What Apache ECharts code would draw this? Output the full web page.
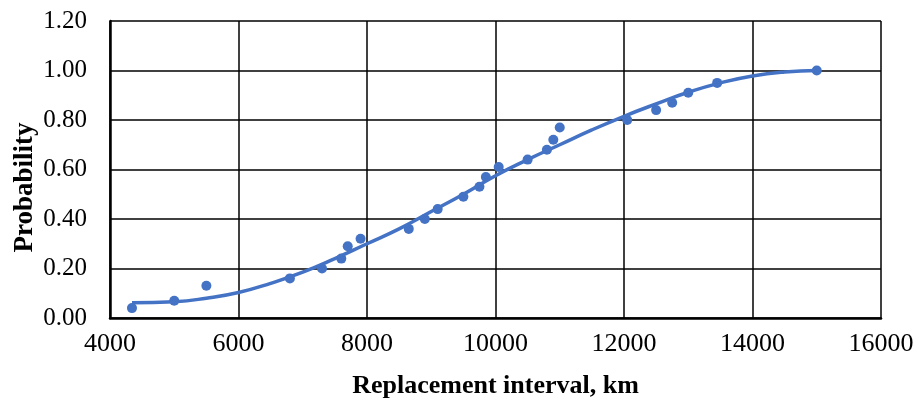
<!DOCTYPE html>
<html>
<head>
<meta charset="utf-8">
<script src="https://cdn.jsdelivr.net/npm/echarts@6/dist/echarts.min.js"></script>
<style>html,body{margin:0;padding:0;background:#fff}#c{width:913px;height:401px}</style>
</head>
<body>
<div id="c"></div>
<script>
// Observed data points
const obsKm = [4342, 5000, 5500, 6800, 7300, 7600, 7700, 7900, 8650, 8900, 9100, 9500, 9750, 9850, 10050, 10500, 10800, 10900, 11000, 12050, 12500, 12750, 13000, 13450, 15000];
const obsProb = [0.04, 0.07, 0.13, 0.16, 0.20, 0.24, 0.29, 0.32, 0.36, 0.40, 0.44, 0.49, 0.53, 0.57, 0.61, 0.64, 0.68, 0.72, 0.77, 0.80, 0.84, 0.87, 0.91, 0.95, 1.00];
// Fitted curve
const fitKm = [4342, 5000, 5500, 6000, 6500, 7000, 7500, 8000, 8500, 9000, 9500, 10000, 10500, 11000, 11500, 12000, 12500, 13000, 13500, 14000, 14500, 15000];
const fitProb = [0.062, 0.066, 0.08, 0.103, 0.14, 0.185, 0.24, 0.30, 0.36, 0.43, 0.50, 0.575, 0.64, 0.70, 0.76, 0.815, 0.865, 0.912, 0.95, 0.978, 0.994, 1.00];
const xName = 'Replacement interval, km';
const yName = 'Probability';

const chart = echarts.init(document.getElementById('c'), null, {renderer: 'canvas'});
const font = '"Liberation Serif", "Times New Roman", serif';
const blue = '#4472C4';
chart.setOption({
  animation: false,
  backgroundColor: '#fff',
  grid: {left: 110, right: 32, top: 21, bottom: 83, containLabel: false, outerBoundsMode: 'none'},
  xAxis: {
    type: 'value', min: 4000, max: 16000, interval: 2000,
    name: xName, nameLocation: 'middle', nameGap: 55, nameMoveOverlap: false,
    nameTextStyle: {fontFamily: font, fontSize: 26, fontWeight: 'bold', color: '#000'},
    axisLine: {show: true, onZero: false, lineStyle: {color: '#000', width: 2.5}},
    axisTick: {show: false},
    axisLabel: {fontFamily: font, fontSize: 26, color: '#000', margin: 13,
                formatter: v => String(v)},
    splitLine: {show: true, lineStyle: {color: '#000', width: 1.5}}
  },
  yAxis: {
    type: 'value', min: 0, max: 1.2, interval: 0.2,
    name: yName, nameLocation: 'middle', nameGap: 71, nameRotate: 90, nameMoveOverlap: false,
    nameTextStyle: {fontFamily: font, fontSize: 27, fontWeight: 'bold', color: '#000',
                    padding: [0, 36, 0, 0]},
    axisLine: {show: true, lineStyle: {color: '#000', width: 2.5}},
    axisTick: {show: false},
    axisLabel: {fontFamily: font, fontSize: 25, color: '#000', margin: 23,
                formatter: v => v.toFixed(2)},
    splitLine: {show: true, lineStyle: {color: '#000', width: 1.5}}
  },
  series: [
    {
      type: 'line', smooth: true, showSymbol: false, silent: true,
      data: fitKm.map((x, i) => [x, fitProb[i]]),
      lineStyle: {color: blue, width: 3.5}
    },
    {
      type: 'scatter', symbol: 'circle', symbolSize: 10,
      data: obsKm.map((x, i) => [x, obsProb[i]]),
      itemStyle: {color: blue, opacity: 1}
    }
  ]
});
</script>
</body>
</html>
